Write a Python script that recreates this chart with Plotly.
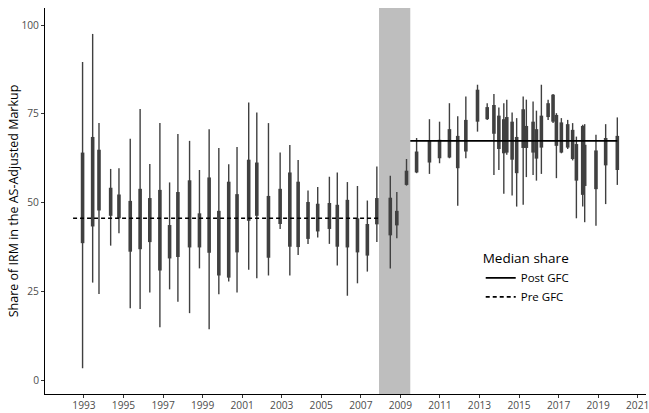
import plotly.graph_objects as go

# Observation dates (decimal years)
dates = [1992.93, 1993.44, 1993.76, 1994.35, 1994.77, 1995.34, 1995.84, 1996.33, 1996.84, 1997.33,
         1997.75, 1998.34, 1998.84, 1999.33, 1999.82, 2000.32, 2000.74, 2001.33, 2001.74, 2002.33,
         2002.92, 2003.41, 2003.83, 2004.33, 2004.82, 2005.41, 2005.81, 2006.32, 2006.83, 2007.33,
         2007.81, 2008.49, 2008.82, 2009.31, 2009.82, 2010.47, 2010.98, 2011.48, 2011.90, 2012.31,
         2012.90, 2013.39, 2013.73, 2013.98, 2014.23, 2014.38, 2014.65, 2014.88, 2015.21, 2015.37,
         2015.71, 2015.88, 2016.13, 2016.47, 2016.72, 2016.89, 2017.14, 2017.46, 2017.71, 2017.90,
         2018.22, 2018.32, 2018.89, 2019.38, 2019.97]
# Whisker low / box low (q1) / box high (q3) / whisker high
low = [3.4, 27.5, 24.3, 37.9, 41.4, 20.3, 20.1, 24.7, 14.9, 25.6,
       22.1, 18.9, 31.5, 14.4, 24.2, 27.8, 24.7, 31.1, 28.7, 29.5,
       42.6, 29.5, 35.3, 38.4, 40.2, 38.4, 32.3, 23.8, 27.3, 30.6,
       38.9, 31.5, 40.0, 54.8, 58.3, 58.1, 61.1, 62.5, 49.1, 62.5,
       70.0, 73.3, 57.8, 59.2, 52.5, 63.5, 52.0, 48.9, 49.4, 57.2,
       57.8, 56.2, 58.1, 73.3, 72.4, 56.9, 63.9, 65.1, 61.9, 45.6,
       48.9, 44.5, 43.5, 49.6, 55.0]
q1 = [38.6, 43.3, 47.8, 46.3, 45.6, 36.2, 36.9, 38.9, 30.9, 34.3,
      34.7, 37.4, 37.4, 35.9, 29.5, 28.9, 36.0, 44.9, 46.3, 34.5,
      44.0, 37.6, 37.5, 39.8, 41.9, 42.6, 37.6, 37.4, 36.0, 35.1,
      43.9, 40.8, 43.6, 55.0, 58.5, 61.3, 62.5, 62.7, 59.7, 64.4,
      72.8, 73.5, 69.4, 65.1, 63.9, 64.1, 62.1, 58.3, 65.4, 65.4,
      64.1, 62.4, 65.5, 74.1, 72.8, 66.0, 64.1, 65.5, 62.3, 56.2,
      52.2, 54.7, 53.8, 60.5, 59.2]
q3 = [64.1, 68.5, 64.9, 54.2, 52.3, 50.5, 53.9, 51.3, 53.6, 43.7,
      53.0, 56.3, 47.0, 57.1, 47.7, 55.9, 52.4, 62.1, 61.3, 51.9,
      53.9, 58.5, 55.9, 50.2, 49.7, 49.9, 49.4, 50.8, 45.6, 44.0,
      51.3, 51.4, 47.7, 59.0, 64.4, 67.4, 67.7, 70.7, 68.8, 73.3,
      81.8, 76.9, 77.5, 74.5, 73.5, 74.1, 72.8, 68.5, 76.3, 71.6,
      72.8, 70.7, 74.5, 78.0, 80.4, 74.7, 72.6, 72.1, 70.5, 66.5,
      71.6, 66.3, 64.7, 68.2, 68.8]
high = [89.6, 97.5, 72.4, 59.5, 59.7, 68.0, 76.4, 60.9, 72.4, 55.7,
        69.3, 67.4, 59.2, 70.7, 65.4, 60.8, 65.7, 78.2, 75.4, 72.4,
        64.1, 66.2, 62.0, 53.4, 54.4, 57.3, 58.5, 55.8, 54.7, 50.6,
        60.2, 57.6, 53.0, 62.3, 68.2, 73.5, 72.8, 78.0, 74.3, 79.9,
        83.2, 78.0, 80.6, 76.8, 78.0, 79.0, 75.4, 73.8, 79.9, 79.0,
        78.5, 75.9, 83.2, 79.0, 80.6, 75.2, 73.8, 73.3, 72.4, 68.6,
        71.9, 72.1, 69.1, 72.1, 74.0]

# Median share by period
periods = ["Post GFC", "Pre GFC"]
period_start = [2009.5, 1992.45]
period_end = [2019.97, 2007.92]
period_median = [67.4, 45.6]
period_dash = ["solid", "4px,3px"]

# GFC shading
gfc_start, gfc_end = 2007.92, 2009.5

x_ticks = list(range(1993, 2022, 2))
y_ticks = [0, 25, 50, 75, 100]

FONT = "Open Sans"
COL = "#404040"

wx, wy, bx, by = [], [], [], []
for d, lo, a, b, hi in zip(dates, low, q1, q3, high):
    wx += [d, d, None]
    wy += [lo, hi, None]
    bx += [d, d, None]
    by += [a, b, None]

fig = go.Figure()
fig.add_trace(go.Scatter(x=wx, y=wy, mode="lines", line=dict(color=COL, width=1.4),
                         showlegend=False, hoverinfo="skip"))
fig.add_trace(go.Scatter(x=bx, y=by, mode="lines", line=dict(color=COL, width=3.6),
                         showlegend=False, hoverinfo="skip"))
for name, s, e, m, dash in zip(periods, period_start, period_end, period_median, period_dash):
    fig.add_trace(go.Scatter(x=[s, e], y=[m, m], mode="lines", name=name,
                             line=dict(color="black", width=1.6, dash=dash)))

fig.add_shape(type="rect", xref="x", yref="paper", x0=gfc_start, x1=gfc_end, y0=0, y1=1,
              fillcolor="#bebebe", line=dict(width=0), layer="below")


def axis_style():
    return dict(showgrid=False, zeroline=False, showline=True, linecolor="black", linewidth=1,
                ticks="outside", ticklen=3, tickcolor="#333333", automargin=False,
                ticklabeloverflow="allow",
                tickfont=dict(family=FONT, size=10.2, color="#4d4d4d"))


fig.update_layout(
    width=649, height=413,
    margin=dict(l=45, r=3, t=8, b=19, pad=0),
    plot_bgcolor="white", paper_bgcolor="white",
    font=dict(family=FONT, color="black"),
    xaxis=dict(range=[1991.03, 2021.42], tickvals=x_ticks, ticklabelstandoff=-1, **axis_style()),
    yaxis=dict(range=[-3.86, 104.8], tickvals=y_ticks,
               title=dict(text="Share of IRM in the AS-Adjusted Markup",
                          font=dict(family=FONT, size=12.5, color="black"), standoff=0),
               **axis_style()),
    legend=dict(x=0.725, y=0.384, xanchor="left", yanchor="top", bgcolor="rgba(0,0,0,0)",
                title=dict(text="Median share", font=dict(family=FONT, size=13.5, color="black")),
                font=dict(family=FONT, size=11.5, color="black"), itemwidth=30),
)

fig.write_html("out.html", config={"displayModeBar": False},
               post_script="document.body.style.margin='0px';document.body.style.overflow='hidden';")
